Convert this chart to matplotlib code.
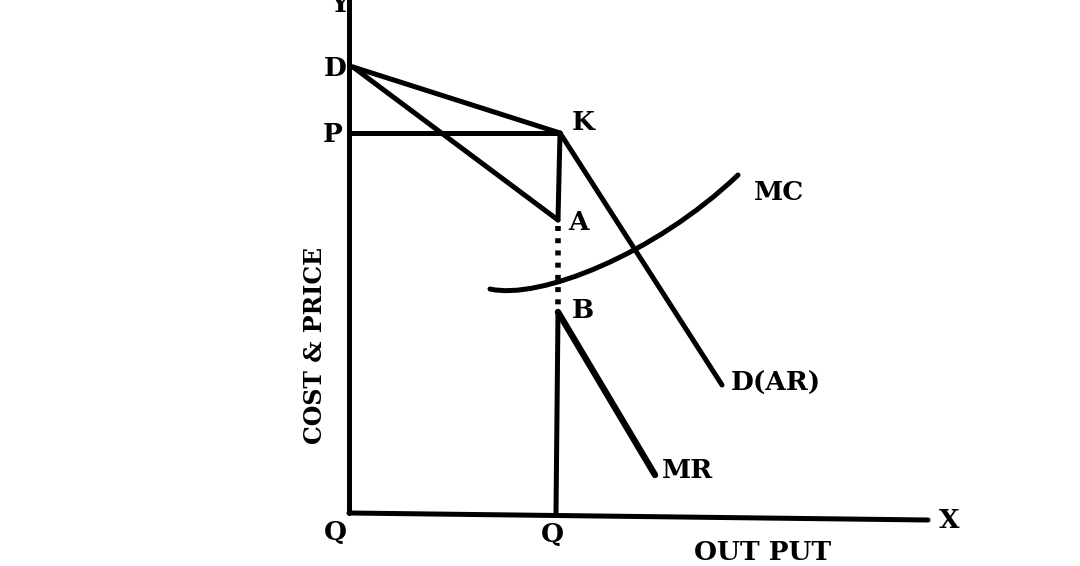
import matplotlib
matplotlib.use("Agg")
import matplotlib.pyplot as plt
from matplotlib.path import Path
from matplotlib.patches import PathPatch
import numpy as np

# kinked demand curve diagram, coordinates in output / price units
# (origin at the corner of the axes)
axis_y_top = 513
axis_x_end = (579, -7)

point_D = (4, 446)
point_K = (211, 380)
point_A = (209, 293)
point_B = (209, 201)
q_out = 207

ar_end = (373, 128)
mr_end = (306, 38)

# MC drawn as one smooth bezier: start, two control points, end
mc_ctrl = [(141, 224), (190, 213), (305, 258), (389, 338)]

labels = [
    ("Y", (-9, 508)), ("D", (-14, 445)), ("P", (-16, 378)),
    ("K", (234, 390)), ("A", (229, 290)), ("B", (234, 203)),
    ("MC", (430, 321)), ("D(AR)", (427, 130)), ("MR", (338, 43)),
    ("Q", (-14, -20)), ("Q", (203, -22)), ("X", (600, -7)),
    ("OUT PUT", (414, -40)),
]

fig = plt.figure(figsize=(10.8, 5.66), dpi=100)
ax = fig.add_axes([0, 0, 1, 1])
ax.set_xlim(-349, 731)
ax.set_ylim(-53, 513)
ax.axis("off")

lw = 3.6
kw = dict(color="black", lw=lw, solid_capstyle="round", solid_joinstyle="round")

# axes
ax.plot([0, 0], [0, axis_y_top + 10], **kw)
ax.plot([0, axis_x_end[0]], [0, axis_x_end[1]], **kw)

# demand pieces
ax.plot([point_D[0], point_K[0]], [point_D[1], point_K[1]], **kw)
ax.plot([point_K[0], ar_end[0]], [point_K[1], ar_end[1]], **kw)
ax.plot([0, point_K[0]], [point_K[1], point_K[1]], **kw)
ax.plot([point_D[0], point_A[0]], [point_D[1], point_A[1]], **kw)
ax.plot([point_K[0], point_A[0]], [point_K[1], point_A[1]], **kw)

# gap in MR (dotted)
ax.plot([point_A[0], point_B[0]], [point_A[1] - 6, point_B[1] + 4],
        color="black", lw=4, linestyle=(0, (0.9, 1.3)), solid_capstyle="butt")

ax.plot([point_B[0], q_out], [point_B[1], 0], **kw)
ax.plot([point_B[0], mr_end[0]], [point_B[1], mr_end[1]], color="black",
        lw=4.6, solid_capstyle="round")

# MC curve
mc_path = Path(mc_ctrl, [Path.MOVETO, Path.CURVE4, Path.CURVE4, Path.CURVE4])
ax.add_patch(PathPatch(mc_path, facecolor="none", edgecolor="black", lw=lw,
                       capstyle="round"))

font = dict(family="DejaVu Serif", fontweight="bold", color="black")
for txt, (x, y) in labels:
    ax.text(x, y, txt, ha="center", va="center", fontsize=19, **font)

ax.text(-34, 168, "COST & PRICE", rotation=90, ha="center", va="center",
        fontsize=17, **font)

fig.savefig("out.png", dpi=100, facecolor="white")
